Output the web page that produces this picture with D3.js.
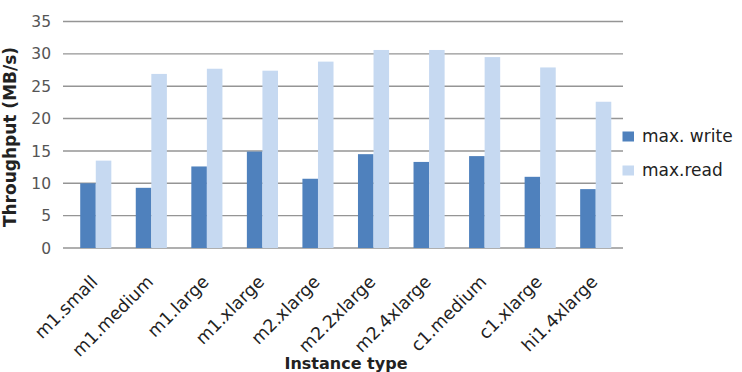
<!DOCTYPE html>
<html><head><meta charset="utf-8">
<script src="https://cdn.jsdelivr.net/npm/d3@7"></script>
<style>body{margin:0;background:#fff}svg{display:block}</style>
</head><body>
<svg id="c" width="742" height="372"></svg>
<script>
const categories = ["m1.small","m1.medium","m1.large","m1.xlarge","m2.xlarge","m2.2xlarge","m2.4xlarge","c1.medium","c1.xlarge","hi1.4xlarge"];
const maxWrite = [10.0, 9.3, 12.6, 14.9, 10.7, 14.5, 13.3, 14.2, 11.0, 9.1];
const maxRead = [13.5, 26.9, 27.7, 27.4, 28.8, 30.6, 30.6, 29.5, 27.9, 22.6];
const seriesNames = ["max. write", "max.read"];
const yTicks = [0, 5, 10, 15, 20, 25, 30, 35];
const colors = ["#4F81BD", "#C6D9F1"];

const svg = d3.select("#c");
const FONT = "'DejaVu Sans', sans-serif";
const x = d3.scaleBand().domain(categories).range([68, 623.5]).paddingInner(0.44).paddingOuter(0.22);
const xs = d3.scaleBand().domain([0,1]).range([0, x.bandwidth()]);
const y = d3.scaleLinear().domain([0, 35]).range([248, 21.5]);

// grid
svg.append("g").selectAll("line").data(yTicks).join("line")
  .attr("x1", 63).attr("x2", 623).attr("y1", d => y(d)).attr("y2", d => y(d))
  .attr("stroke", "#959595").attr("stroke-width", 1.4);

// y tick labels
svg.append("g").selectAll("text").data(yTicks).join("text")
  .attr("x", 51).attr("y", d => y(d)).attr("dy", "0.36em")
  .attr("text-anchor", "end").attr("font-family", FONT).attr("font-size", 15.5)
  .attr("fill", "#555").text(d => d);

// bars
const series = [maxWrite, maxRead];
series.forEach((vals, si) => {
  svg.append("g").selectAll("rect").data(categories).join("rect")
    .attr("x", (d) => x(d) + xs(si)).attr("width", xs.bandwidth())
    .attr("y", (d, i) => y(vals[i])).attr("height", (d, i) => y(0) - y(vals[i]))
    .attr("fill", colors[si]);
});

// x labels
svg.append("g").selectAll("text").data(categories).join("text")
  .attr("transform", d => `translate(${x(d) + x.bandwidth()/2 + 3},283) rotate(-45)`)
  .attr("text-anchor", "end").attr("font-family", FONT).attr("font-size", 17.5)
  .attr("fill", "#222").text(d => d);

// axis titles
svg.append("text").attr("transform", "translate(16,137) rotate(-90)")
  .attr("text-anchor", "middle").attr("font-family", FONT).attr("font-weight", "bold")
  .attr("font-size", 17).attr("fill", "#222").text("Throughput (MB/s)");
svg.append("text").attr("x", 346).attr("y", 369)
  .attr("text-anchor", "middle").attr("font-family", FONT).attr("font-weight", "bold")
  .attr("font-size", 16).attr("fill", "#222").text("Instance type");

// legend
const lg = svg.append("g").selectAll("g").data(seriesNames).join("g")
  .attr("transform", (d, i) => `translate(622.5,${131.5 + i * 34})`);
lg.append("rect").attr("width", 11.5).attr("height", 10).attr("fill", (d, i) => colors[i]);
lg.append("text").attr("x", 19.5).attr("y", 10).attr("font-family", FONT).attr("font-size", 17)
  .attr("fill", "#222").text(d => d);
</script>
</body></html>
